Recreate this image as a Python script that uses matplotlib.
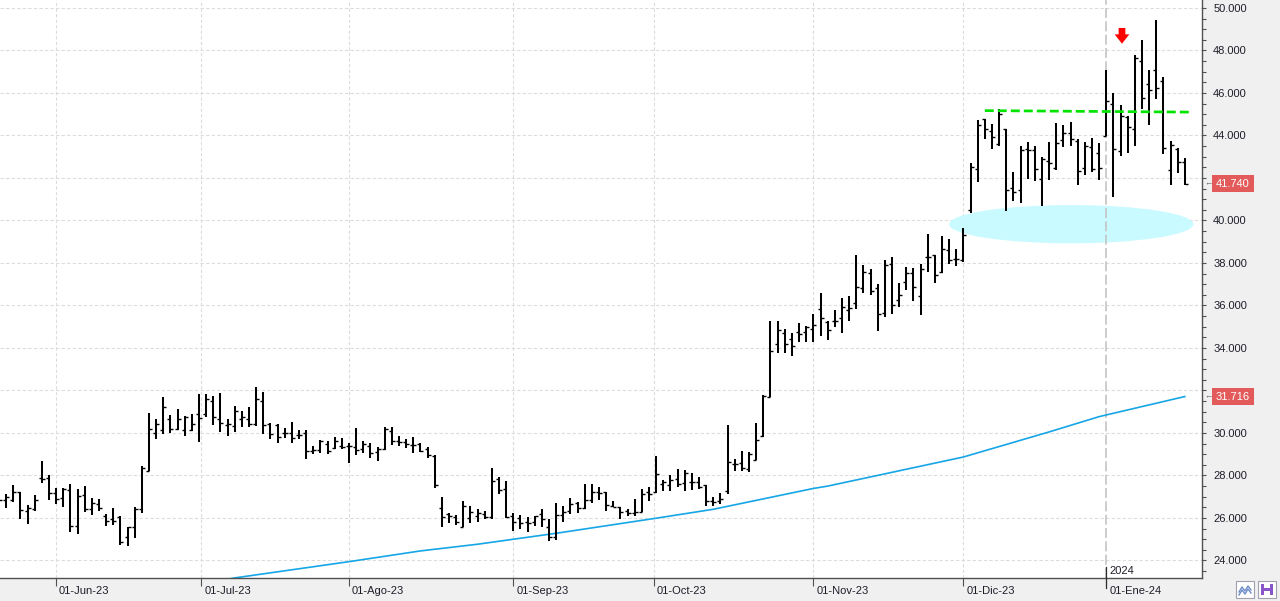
import numpy as np
import pandas as pd
import matplotlib
matplotlib.use("Agg")
import matplotlib.pyplot as plt
from matplotlib.patches import Ellipse, Polygon, Rectangle
from matplotlib.ticker import FuncFormatter

plt.rcParams['font.family'] = ['Liberation Sans', 'DejaVu Sans']

# ---------------- data ----------------
holidays = ['2023-05-29', '2023-06-19', '2023-07-04', '2023-09-04',
            '2023-11-23', '2023-12-25', '2024-01-01', '2024-01-15']
dates = pd.bdate_range('2023-05-19', '2024-01-18', freq='C', holidays=holidays)

opens = [26950, 26830, 26870, 27220, 26320, 26440, 27890, 27870, 27160, 26920,
         27320, 25640, 27100, 26400, 26680, 26110, 25970, 26030, 25100, 25560,
         26430, 28210, 30020, 30160, 30680, 30210, 30130, 30130, 30890, 30890,
         31490, 30680, 30360, 30320, 30680, 30680, 30440, 31520, 30440, 30360,
         30020, 30000, 29920, 30000, 29130, 29210, 29490, 29290, 29400, 29380,
         29350, 29240, 29400, 29110, 29250, 30100, 29630, 29560, 29440, 29460,
         29240, 28900, 26470, 26190, 26060, 25590, 26000, 26110, 26190, 26060,
         27840, 27370, 26090, 25980, 25800, 25800, 26190, 25590, 25090, 26160,
         26320, 26720, 26470, 26850, 27210, 27210, 26580, 26500, 26320, 26220,
         26300, 27210, 27210, 27610, 27530, 27840, 27640, 27700, 27700, 27560,
         26790, 26820, 27260, 28550, 28580, 28320, 28740, 29860, 31700, 34170,
         34690, 34410, 34770, 34770, 34880, 35830, 35200, 35290, 35390, 35780,
         36100, 36800, 37510, 36800, 35670, 37940, 36280, 37090, 37510, 36430,
         38270, 38360, 37560, 38620, 38190, 38130, 40490, 42420, 44790, 44230,
         43600, 44320, 41530, 41450, 43360, 43300, 41950, 42810, 42470, 43800,
         44120, 43760, 42470, 43470, 43180, 43990, 45480, 43270, 44870, 44320,
         47520, 46420, 47100, 46550, 42390, 43380, 42750]
highs = [27050, 27110, 27560, 27220, 26600, 27080, 28670, 28020, 27410, 27400,
         27590, 27350, 27490, 26920, 26890, 26190, 26490, 26110, 25590, 26540,
         28440, 30940, 30680, 31710, 30840, 31110, 30810, 30890, 31830, 31830,
         31750, 31900, 30680, 31270, 31030, 31220, 32170, 31940, 30490, 30400,
         30250, 30510, 30130, 30130, 29400, 29680, 29600, 29790, 29750, 29520,
         30250, 29600, 29510, 29330, 30270, 30270, 29840, 29700, 29810, 29520,
         29320, 28960, 27010, 26220, 26160, 26820, 26580, 26430, 26350, 28330,
         27950, 27720, 26220, 26160, 26060, 26110, 26430, 25950, 26690, 26580,
         26950, 26770, 27610, 27610, 27480, 27240, 26820, 26540, 26430, 26900,
         27370, 27480, 28940, 27800, 28000, 28310, 28270, 28130, 27920, 27560,
         27010, 27170, 30360, 28790, 29130, 29100, 30470, 31780, 35290, 35290,
         34880, 34690, 35170, 35040, 35610, 36580, 35260, 35790, 36360, 36440,
         38380, 37910, 37720, 37010, 38140, 38270, 37040, 37830, 37750, 37940,
         39360, 38380, 39280, 39120, 38680, 39640, 42700, 44740, 44790, 44560,
         45260, 44320, 42280, 43520, 43690, 43490, 42990, 43690, 44590, 44490,
         44630, 43830, 43690, 43880, 43650, 47100, 46000, 45450, 44900, 47800,
         48510, 47100, 49450, 46740, 43720, 43410, 42940]
lows = [26700, 26480, 26760, 25970, 25710, 26350, 27670, 26870, 26640, 26520,
        25330, 25240, 26290, 26160, 26320, 25640, 25680, 24710, 24670, 25050,
        26240, 28210, 29710, 29970, 30020, 30160, 29870, 30080, 29570, 30730,
        30360, 30050, 29870, 30050, 30290, 30290, 30320, 29970, 29710, 29520,
        29780, 29520, 29710, 28760, 29020, 29050, 29020, 29240, 29250, 28570,
        28970, 29050, 28810, 28670, 29220, 29440, 29380, 29290, 29050, 29100,
        28830, 27430, 25560, 25750, 25690, 25560, 25750, 25830, 25950, 25950,
        27130, 26000, 25370, 25480, 25320, 25640, 25590, 24900, 24960, 25800,
        26190, 26220, 26430, 26690, 26850, 26350, 26500, 25940, 26110, 26110,
        26270, 26790, 27170, 27260, 27260, 27450, 27260, 27340, 27370, 26550,
        26550, 26660, 27130, 28210, 28190, 28160, 28710, 29810, 31700, 33750,
        33750, 33620, 34300, 34300, 34300, 34570, 34380, 34990, 34710, 35280,
        35830, 36600, 36490, 34800, 35470, 35590, 35940, 36730, 36220, 35540,
        37590, 37070, 37550, 37950, 37870, 38030, 40330, 41790, 43830, 43350,
        43490, 40430, 40900, 40820, 41950, 41840, 40700, 41890, 42360, 43440,
        43490, 41690, 42120, 42280, 41920, 43960, 41090, 43020, 43160, 43490,
        45260, 44480, 45720, 43140, 41680, 42230, 41650]
closes = [26840, 27000, 27220, 26370, 26480, 26870, 27850, 27160, 26900, 27350,
          25640, 27020, 26400, 26710, 26480, 25870, 25840, 24870, 25570, 26430,
          28350, 30210, 30440, 31220, 30210, 30680, 30730, 30430, 30700, 31590,
          30730, 30490, 30430, 31030, 30730, 30440, 31590, 30360, 29970, 29810,
          30020, 29780, 29890, 29130, 29210, 29600, 29130, 29600, 29350, 29380,
          29220, 29480, 29050, 29250, 30190, 29600, 29570, 29490, 29430, 29160,
          28950, 27570, 26030, 26080, 25830, 26580, 26300, 26220, 26060, 27760,
          27340, 26030, 25830, 25750, 25750, 26080, 25950, 25120, 26160, 26300,
          26660, 26460, 26850, 27240, 27170, 26610, 26540, 26300, 26220, 26270,
          27130, 27130, 28050, 27700, 27810, 27610, 28110, 27700, 27450, 26820,
          26770, 26900, 28630, 28550, 28360, 28990, 29690, 31750, 33840, 34850,
          34170, 34100, 34660, 35010, 35090, 35400, 34870, 35290, 35920, 35890,
          36850, 37560, 36660, 35620, 37890, 36000, 36490, 37510, 36850, 37720,
          38270, 37420, 38650, 38140, 38210, 39310, 42520, 44490, 44320, 43910,
          45010, 41450, 41320, 43320, 43300, 42420, 42910, 42690, 43650, 44120,
          43830, 42330, 43520, 42420, 42470, 45640, 43360, 44930, 44400, 47650,
          45750, 46160, 46230, 43410, 43540, 42750, 41740]

# moving average (read at sample bars)
ma_idx = [31, 33, 49, 59, 67, 72, 78, 92, 100, 114, 116, 135, 147, 154, 166]
ma_vals = [23050, 23180, 23945, 24450, 24765, 25000, 25280, 25990, 26410,
           27390, 27500, 28870, 30050, 30770, 31716]

month_starts = ['2023-06-01', '2023-07-01', '2023-08-01', '2023-09-01',
                '2023-10-01', '2023-11-01', '2023-12-01', '2024-01-01']
month_labels = ['01-Jun-23', '01-Jul-23', '01-Ago-23', '01-Sep-23',
                '01-Oct-23', '01-Nov-23', '01-Dic-23', '01-Ene-24']
yticks = list(range(24000, 50001, 2000))

# annotations
resist_x = [138, 167]
resist_y = [45170, 45100]
zone_center = (150.1, 39826)
zone_size = (34.2, 1800)
arrow_x = 157.2
arrow_y = (49060, 48760, 48320)   # top, head base, tip
last_price = 41740
ma_last = 31716

# ---------------- figure ----------------
W, H = 1280, 601
fig = plt.figure(figsize=(W / 100, H / 100), dpi=100, facecolor='#F0F0F0')
ax = fig.add_axes([0, 23 / H, 1202 / W, 578 / H])
ax.set_facecolor('white')
ax.set_xlim(0.15, 168.4)
ax.set_ylim(23176, 50376)
ax.set_axisbelow(True)

x = np.arange(len(dates))
dnum = dates.values.astype('datetime64[D]').astype(np.int64)


def month_pos(d):
    d = pd.Timestamp(d)
    if d.weekday() >= 5:
        dn = np.datetime64(d.date(), 'D').astype(np.int64)
        i = np.searchsorted(dnum, dn)
        return (i - 1) + (dn - dnum[i - 1]) / (dnum[i] - dnum[i - 1])
    return float(np.searchsorted(dates, d))


mpos = [month_pos(d) for d in month_starts]

# grid
grid_kw = dict(color='#DCDCDC', lw=0.8, ls=(0, (3, 2)))
for v in yticks:
    ax.axhline(v, zorder=0.5, **grid_kw)
for p in mpos[:-1]:
    ax.axvline(p, zorder=0.5, **grid_kw)
# year separator
ax.axvline(mpos[-1], color='#C4C4C4', lw=1.2, ls=(0, (6, 2)), zorder=1.2)

# support zone
ax.add_patch(Ellipse(zone_center, zone_size[0], zone_size[1],
                     facecolor='#C8FAFF', edgecolor='none', zorder=1))

# moving average
ax.plot(ma_idx, ma_vals, color='#16A6E6', lw=1.2, zorder=2)

# OHLC bars
ax.vlines(x, lows, highs, color='black', lw=1.45, zorder=3)
ax.hlines(opens, x - 0.42, x, color='black', lw=1.0, zorder=3)
ax.hlines(closes, x, x + 0.42, color='black', lw=1.0, zorder=3)

# resistance
ax.plot(resist_x, resist_y, color='#00E400', lw=1.95, ls=(0, (3.3, 1.5)),
        zorder=4, solid_capstyle='butt', dash_capstyle='butt')

# red arrow
sw, hw = 0.47, 1.03
ax.add_patch(Polygon([(arrow_x - sw, arrow_y[0]), (arrow_x + sw, arrow_y[0]),
                      (arrow_x + sw, arrow_y[1]), (arrow_x + hw, arrow_y[1]),
                      (arrow_x, arrow_y[2]), (arrow_x - hw, arrow_y[1]),
                      (arrow_x - sw, arrow_y[1])],
                     closed=True, facecolor='#FF0000', edgecolor='none', zorder=5))

# spines
for s in ['top', 'left']:
    ax.spines[s].set_visible(False)
for s in ['right', 'bottom']:
    ax.spines[s].set_color('#505050')
    ax.spines[s].set_linewidth(1.0)


# y axis (labels hidden behind the price boxes are left out)
def yfmt(v, p):
    if abs(v - last_price) < 1000 or abs(v - ma_last) < 1000:
        return ''
    return f"{int(v):,}".replace(',', '.')


ax.yaxis.tick_right()
ax.set_yticks(yticks)
ax.set_yticks(np.arange(23500, 50376, 500), minor=True)
ax.yaxis.set_major_formatter(FuncFormatter(yfmt))
ax.tick_params(axis='y', which='both', direction='out', length=3, width=0.8,
               color='#505050', labelsize=8, labelcolor='#1E1E2A', pad=5)

# x axis
ax.set_xticks(mpos)
ax.set_xticklabels([''] * len(mpos))
ax.tick_params(axis='x', which='major', direction='out', length=6, width=0.8,
               color='#505050')
for p, lab in zip(mpos, month_labels):
    ax.annotate(lab, xy=(p, 0), xycoords=('data', 'axes fraction'),
                xytext=(3, -13), textcoords='offset pixels', ha='left',
                va='center', fontsize=8, color='#1E1E2A', annotation_clip=False)

# 2024 marker
ax.plot([mpos[-1], mpos[-1]], [11 / 578, -10 / 578], color='#303030', lw=0.9,
        transform=ax.get_xaxis_transform(), clip_on=False, zorder=6)
ax.annotate('2024', xy=(mpos[-1], 0), xycoords=('data', 'axes fraction'),
            xytext=(3, 7), textcoords='offset pixels', ha='left', va='center',
            fontsize=8, color='#1E1E2A', annotation_clip=False)

# price labels
for val in [last_price, ma_last]:
    ax.annotate(f"{val:,}".replace(',', '.'), xy=(1, val),
                xycoords=('axes fraction', 'data'), xytext=(14, 0),
                textcoords='offset pixels', ha='left', va='center', fontsize=8,
                color='white', annotation_clip=False, zorder=10,
                bbox=dict(boxstyle='square,pad=0.35', fc='#E25A5A', ec='none'))
    ax.annotate('\u2190', xy=(1, val), xycoords=('axes fraction', 'data'),
                xytext=(2, 0), textcoords='offset pixels', ha='left',
                va='center', fontsize=6, color='#606060',
                annotation_clip=False)


# bottom-right buttons
def fig_rect(x0, y0, w, h, **kw):
    fig.patches.append(Rectangle((x0 / W, 1 - (y0 + h) / H), w / W, h / H,
                                 transform=fig.transFigure, **kw))


fig_rect(1236, 581, 18, 17, facecolor='white', edgecolor='#A0A0B0', lw=0.8)
fig_rect(1258, 581, 18, 17, facecolor='white', edgecolor='#A0A0B0', lw=0.8)
fig_rect(1261, 584, 12, 11, facecolor='#8A55C8', edgecolor='none')
fig_rect(1264, 584, 6, 4, facecolor='white', edgecolor='none')
fig_rect(1264, 591, 6, 4, facecolor='white', edgecolor='none')
zx = np.array([1239, 1242, 1245, 1248, 1251])
zy = np.array([592, 587, 591, 586, 590])
fig.lines.append(plt.Line2D(zx / W, 1 - zy / H, transform=fig.transFigure,
                            color='#6C8CC8', lw=1.0))
fig.lines.append(plt.Line2D(zx / W, 1 - (zy + 3) / H, transform=fig.transFigure,
                            color='#6C8CC8', lw=1.0))

fig.savefig('out.png', dpi=100, facecolor=fig.get_facecolor())
